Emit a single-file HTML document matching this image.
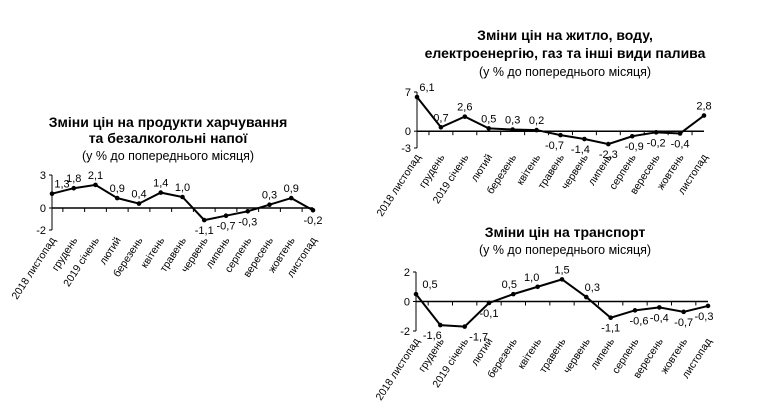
<!DOCTYPE html>
<html><head><meta charset="utf-8"><style>
body{margin:0;background:#fff}
svg{display:block;font-family:"Liberation Sans",Arial,sans-serif}
.t{font-family:"Liberation Sans",Arial,sans-serif;font-weight:bold;font-size:14px;text-anchor:middle}
.s{font-family:"Liberation Sans",Arial,sans-serif;font-size:12.5px;text-anchor:middle}
.v{font-size:11px}
.m{font-size:10.5px;text-anchor:end}
</style></head><body>
<svg id="c" width="767" height="410" viewBox="0 0 767 410">
<text class="t" x="168" y="127">Зміни цін на продукти харчування</text>
<text class="t" x="168" y="143">та безалкогольні напої</text>
<text class="s" x="168" y="160">(у % до попереднього місяця)</text>
<text class="t" x="565" y="40">Зміни цін на житло, воду,</text>
<text class="t" x="565" y="58">електроенергію, газ та інші види палива</text>
<text class="s" x="565" y="76">(у % до попереднього місяця)</text>
<text class="t" x="565" y="237">Зміни цін на транспорт</text>
<text class="s" x="565" y="254">(у % до попереднього місяця)</text>
</svg>
<script>
const months=["2018 листопад","грудень","2019 січень","лютий","березень","квітень","травень","червень","липень","серпень","вересень","жовтень","листопад"];
const foodValues=[1.3,1.8,2.1,0.9,0.4,1.4,1.0,-1.1,-0.7,-0.3,0.3,0.9,-0.2];
const foodTicks=[3,0,-2];
const housingValues=[6.1,0.7,2.6,0.5,0.3,0.2,-0.7,-1.4,-2.3,-0.9,-0.2,-0.4,2.8];
const housingTicks=[7,0,-3];
const transportValues=[0.5,-1.6,-1.7,-0.1,0.5,1.0,1.5,0.3,-1.1,-0.6,-0.4,-0.7,-0.3];
const transportTicks=[2,0,-2];
const NS="http://www.w3.org/2000/svg";
const svg=document.getElementById('c');
function mk(tag,a,parent){const e=document.createElementNS(NS,tag);for(const k in a)e.setAttribute(k,a[k]);(parent||svg).appendChild(e);return e;}
function chart(prefix,vals,ticks,x0,x1,yTop,yBot,below,dx,labBase){
  const g=mk('g',{});
  
  
  const vmax=ticks[0],vmin=ticks[ticks.length-1];
  const y=v=>yTop+(vmax-v)/(vmax-vmin)*(yBot-yTop);
  const x=i=>x0+i*(x1-x0)/(vals.length-1);
  const ax=mk('line',{x1:x0,y1:yTop,x2:x0,y2:yBot,stroke:'#000','stroke-width':1},g);
  
  
  ticks.forEach(t=>{
    mk('line',{x1:x0-3,y1:y(t),x2:x0,y2:y(t),stroke:'#000'},g);
    const tx=mk('text',{x:x0-6,y:y(t)+4,'text-anchor':'end',class:'v'},g);
    tx.textContent=String(t).replace('.',',');
    
    
  });
  const xa=mk('line',{x1:x0,y1:y(0),x2:x1,y2:y(0),stroke:'#000','stroke-width':1.5},g);
  
  
  for(let i=0;i<vals.length-1;i++){
    const xm=x0+(i+0.5)*(x1-x0)/(vals.length-1);
    mk('line',{x1:xm,y1:y(0),x2:xm,y2:y(0)+4,stroke:'#000'},g);
  }
  const pl=mk('polyline',{points:vals.map((v,i)=>x(i)+','+y(v)).join(' '),fill:'none',stroke:'#000','stroke-width':2},g);
  
  
  vals.forEach((v,i)=>{
    const c=mk('circle',{cx:x(i),cy:y(v),r:2.3,fill:'#000'},g);
    
    
    const b=below[i];
    const t=mk('text',{x:x(i)+(i===0?10:0)+dx[i],y:b?y(v)+14:y(v)-6,'text-anchor':'middle',class:'v'},g);
    t.textContent=v.toFixed(1).replace('.',',');
    
    
    const m=mk('text',{x:0,y:0,class:'m',transform:'translate('+(x(i)+4)+','+labBase+') rotate(-57)'},g);
    m.textContent=months[i];
    
    
  });
}
chart('food',foodValues,foodTicks,52,313,175,230,[0,0,0,0,0,0,0,1,1,1,0,0,1],[0,0,0,0,0,0,0,0,0,0,0,0,0],240);
chart('housing',housingValues,housingTicks,417,704,92,148,[0,0,0,0,0,0,1,1,1,1,1,1,0],[0,0,0,0,0,0,-6,-4,0,2,0,0,0],157);
chart('transport',transportValues,transportTicks,416,708,272,331,[0,1,1,1,0,0,0,0,1,1,1,1,1],[4,-8,14,0,-4,-6,0,6,0,4,0,0,-4],341);
</script>
</body></html>
